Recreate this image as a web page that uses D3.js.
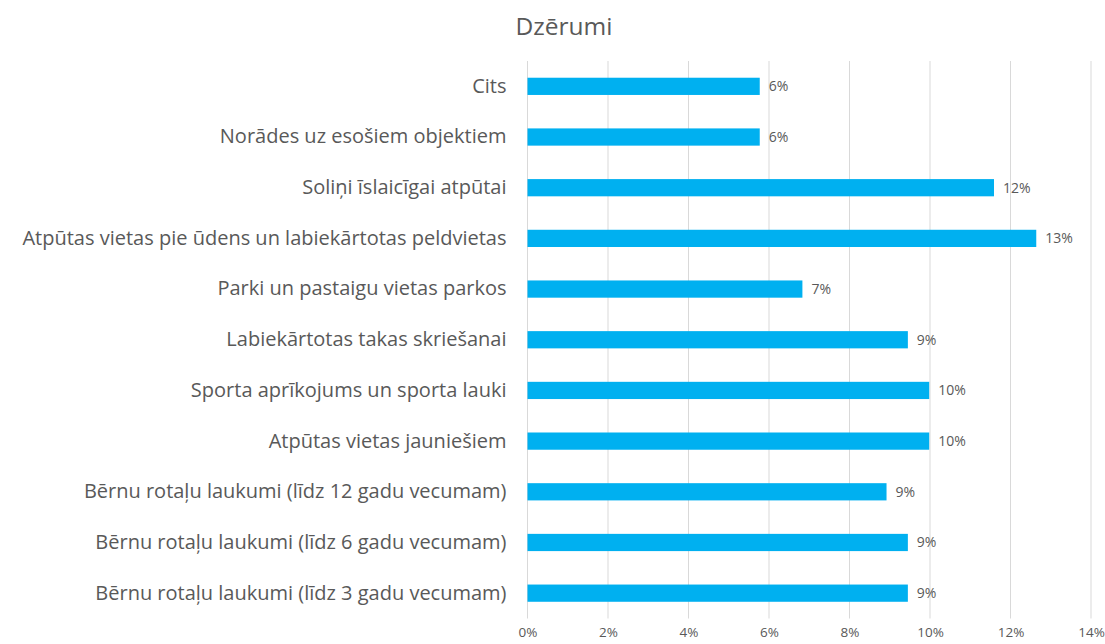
<!DOCTYPE html>
<head>
<meta charset="utf-8">
<title>Dzērumi</title>
<script src="https://d3js.org/d3.v7.min.js"></script>
<style>
body { margin: 0; background: #fff; }
text { font-family: "Open Sans", "Noto Sans", sans-serif; fill: #595959; }
</style>
</head>
<body>
<div id="container"></div>
<script>
//----------------------------DATA------------------------------//
const categories = [
  "Cits",
  "Norādes uz esošiem objektiem",
  "Soliņi īslaicīgai atpūtai",
  "Atpūtas vietas pie ūdens un labiekārtotas peldvietas",
  "Parki un pastaigu vietas parkos",
  "Labiekārtotas takas skriešanai",
  "Sporta aprīkojums un sporta lauki",
  "Atpūtas vietas jauniešiem",
  "Bērnu rotaļu laukumi (līdz 12 gadu vecumam)",
  "Bērnu rotaļu laukumi (līdz 6 gadu vecumam)",
  "Bērnu rotaļu laukumi (līdz 3 gadu vecumam)"
];
const values = [0.0577, 0.0577, 0.1159, 0.1264, 0.0683, 0.0945, 0.0998, 0.0998, 0.0892, 0.0945, 0.0945];
const xTicks = [0, 0.02, 0.04, 0.06, 0.08, 0.10, 0.12, 0.14];
const title = "Dzērumi";

//----------------------------SVG-------------------------------//
const width = 1105;
const height = 644;
const plot = {left: 527.5, right: 1091, top: 61, bottom: 618.5};

const svg = d3.select("#container").append("svg")
    .attr("width", width)
    .attr("height", height);

//---------------------------SCALES-----------------------------//
const x = d3.scaleLinear().domain([0, 0.14]).range([plot.left, plot.right]);
const y = d3.scaleBand().domain(categories).range([plot.top, plot.bottom]).paddingInner(0.66).paddingOuter(0.33);

//----------------------------GRID------------------------------//
svg.append("g")
  .selectAll("line")
  .data(xTicks)
  .join("line")
    .attr("x1", d => x(d)).attr("x2", d => x(d))
    .attr("y1", plot.top).attr("y2", plot.bottom)
    .attr("stroke", "#d9d9d9")
    .attr("stroke-width", 1);

//----------------------------AXES------------------------------//
const xAxis = d3.axisBottom(x)
    .tickValues(xTicks)
    .tickFormat(d3.format(".0%"))
    .tickSize(0)
    .tickPadding(9);

svg.append("g")
    .attr("transform", "translate(0," + plot.bottom + ")")
    .call(xAxis)
    .call(g => g.select(".domain").remove())
    .selectAll("text")
    .style("font-size", "13.5px")
    .attr("fill", "#595959");

const yAxis = d3.axisLeft(y).tickSize(0).tickPadding(21);
svg.append("g")
    .attr("transform", "translate(" + plot.left + ",0)")
    .call(yAxis)
    .call(g => g.select(".domain").remove())
    .selectAll("text")
    .style("font-size", "20px")
    .attr("fill", "#595959");

//----------------------------BARS------------------------------//
const rows = categories.map((c, i) => ({cat: c, val: values[i]}));

svg.append("g")
  .selectAll("rect")
  .data(rows)
  .join("rect")
    .attr("x", x(0))
    .attr("y", d => y(d.cat))
    .attr("width", d => x(d.val) - x(0))
    .attr("height", y.bandwidth())
    .attr("fill", "#00b0f0");

svg.append("g")
  .selectAll("text")
  .data(rows)
  .join("text")
    .attr("x", d => x(d.val) + 9)
    .attr("y", d => y(d.cat) + y.bandwidth() / 2)
    .attr("dy", "0.35em")
    .style("font-size", "14px")
    .text(d => d3.format(".0%")(d.val));

//----------------------------TITLE-----------------------------//
svg.append("text")
    .attr("x", 564)
    .attr("y", 35)
    .attr("text-anchor", "middle")
    .style("font-size", "24.5px")
    .text(title);
</script>
</body>
